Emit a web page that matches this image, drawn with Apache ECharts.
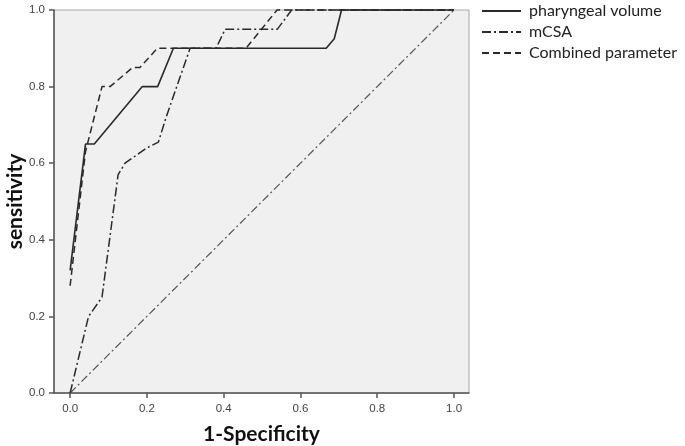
<!DOCTYPE html>
<html>
<head>
<meta charset="utf-8">
<script src="https://cdn.jsdelivr.net/npm/echarts@6/dist/echarts.min.js"></script>
<style>
html,body{margin:0;padding:0;background:#fff;}
#chart{width:685px;height:446px;}
</style>
</head>
<body>
<div id="chart"></div>
<script>
// Data
var seriesNames = ['pharyngeal volume', 'mCSA', 'Combined parameter'];
var xTicks = [0, 0.2, 0.4, 0.6, 0.8, 1.0];
var yTicks = [0, 0.2, 0.4, 0.6, 0.8, 1.0];
// [1-Specificity, sensitivity]
var pharyngealVolume = [[0,0.32],[0.04,0.65],[0.063,0.65],[0.188,0.8],[0.228,0.8],[0.269,0.9],[0.667,0.9],[0.688,0.925],[0.707,1.0],[1.0,1.0]];
var mCSA = [[0,0],[0.048,0.2],[0.083,0.25],[0.125,0.57],[0.143,0.6],[0.2,0.64],[0.23,0.655],[0.25,0.72],[0.3125,0.9],[0.38,0.9],[0.404,0.95],[0.54,0.95],[0.577,1.0],[1.0,1.0]];
var combined = [[0,0.28],[0.04,0.63],[0.083,0.8],[0.104,0.8],[0.163,0.85],[0.182,0.85],[0.227,0.9],[0.458,0.9],[0.539,1.0],[1.0,1.0]];
var reference = [[0,0],[1,1]];

var chart = echarts.init(document.getElementById('chart'));
var lineColor = '#2a2a2a';
var fontFam = 'Lato, "Open Sans", sans-serif';
chart.setOption({
  animation: false,
  backgroundColor: '#ffffff',
  grid: {
    left: 54, right: 216, top: 10, bottom: 53,
    containLabel: false, outerBoundsMode: 'none',
    show: true, backgroundColor: '#f0f0f0', borderColor: '#a8a8a8', borderWidth: 1
  },
  legend: {
    orient: 'vertical',
    left: 476, top: -2,
    itemWidth: 39, itemHeight: 10, itemGap: 5,
    data: seriesNames,
    itemStyle: { opacity: 0 },
    textStyle: { fontFamily: fontFam, fontSize: 16, color: '#222', padding: [0,0,0,3] }
  },
  xAxis: {
    type: 'value', min: -0.042, max: 1.039,
    name: '1-Specificity', nameLocation: 'middle', nameGap: 31,
    nameTextStyle: { fontFamily: fontFam, fontSize: 21, fontWeight: 'bold', color: '#111' },
    axisLine: { show: true, onZero: false, lineStyle: { color: '#555', width: 1.5 } },
    axisTick: { show: true, length: 5, lineStyle: { color: '#555', width: 1.5 }, customValues: xTicks },
    axisLabel: { color: '#444', fontSize: 11.5, fontFamily: '"Liberation Sans", Arial, sans-serif', margin: 10,
      customValues: xTicks,
      formatter: function (v) { return (+v).toFixed(1); } },
    splitLine: { show: false }
  },
  yAxis: {
    type: 'value', min: 0, max: 1, interval: 0.2,
    name: 'sensitivity', nameLocation: 'middle', nameGap: 28, nameRotate: 90, nameMoveOverlap: false,
    nameTextStyle: { fontFamily: fontFam, fontSize: 21, fontWeight: 'bold', color: '#111' },
    axisLine: { show: true, onZero: false, lineStyle: { color: '#555', width: 1.5 } },
    axisTick: { show: true, length: 5, lineStyle: { color: '#555', width: 1.5 } },
    axisLabel: { color: '#444', fontSize: 11.5, fontFamily: '"Liberation Sans", Arial, sans-serif', margin: 9,
      formatter: function (v) { return (+v).toFixed(1); } },
    splitLine: { show: false }
  },
  series: [
    { name: seriesNames[0], type: 'line', data: pharyngealVolume, showSymbol: false, symbol: 'none', clip: false,
      lineStyle: { color: lineColor, width: 1.6, type: 'solid' }, itemStyle: { color: lineColor }, z: 5 },
    { name: seriesNames[1], type: 'line', data: mCSA, showSymbol: false, symbol: 'none', clip: false,
      lineStyle: { color: lineColor, width: 1.5, type: [9, 3, 2, 3] }, itemStyle: { color: lineColor }, z: 4 },
    { name: seriesNames[2], type: 'line', data: combined, showSymbol: false, symbol: 'none', clip: false,
      lineStyle: { color: lineColor, width: 1.5, type: [7, 4] }, itemStyle: { color: lineColor }, z: 3 },
    { name: 'reference', type: 'line', data: reference, showSymbol: false, symbol: 'none', clip: false,
      lineStyle: { color: '#555', width: 1.2, type: [8, 3, 2, 3] }, itemStyle: { color: '#555' }, z: 2 }
  ]
});
</script>
</body>
</html>
